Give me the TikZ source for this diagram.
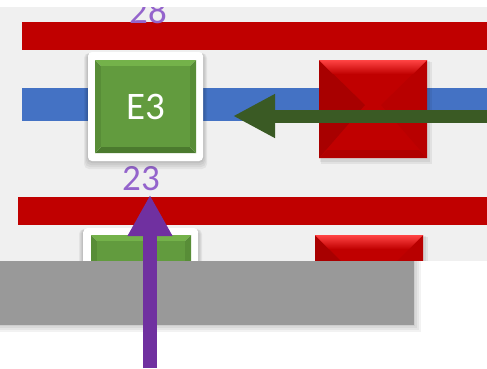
\documentclass[tikz,border=0pt]{standalone}
\usepackage{fontspec}
\setmainfont{Carlito}
\usetikzlibrary{arrows.meta,calc}
\definecolor{bgc}{HTML}{F0F0F0}
\definecolor{redbar}{HTML}{C00000}
\definecolor{bluebar}{HTML}{4472C4}
\definecolor{garrow}{HTML}{3A5A24}
\definecolor{parrow}{HTML}{7030A0}
\definecolor{plabel}{HTML}{9464CC}
\definecolor{graybox}{HTML}{999999}
\definecolor{gface}{HTML}{629B3E}
\definecolor{gtop}{HTML}{74B24A}
\definecolor{gbot}{HTML}{4B7A2E}
\definecolor{gside}{HTML}{588D37}
\definecolor{rface}{HTML}{C00000}
\definecolor{rtop}{HTML}{FF4444}
\definecolor{rleft}{HTML}{A80000}
\definecolor{rright}{HTML}{B80000}
\definecolor{rbot}{HTML}{B00000}
% beveled green box inside white frame: x1 y1 x2 y2 (inner face)
\newcommand{\greenbevel}[4]{%
  \fill[gtop] (#1,#2) -- (#3,#2) -- (#3-6,#2+6) -- (#1+6,#2+6) -- cycle;
  \fill[gbot] (#1,#4) -- (#3,#4) -- (#3-6,#4-6) -- (#1+6,#4-6) -- cycle;
  \fill[gside] (#1,#2) -- (#1+6,#2+6) -- (#1+6,#4-6) -- (#1,#4) -- cycle;
  \fill[gside] (#3,#2) -- (#3-6,#2+6) -- (#3-6,#4-6) -- (#3,#4) -- cycle;
  \fill[gface] (#1+6,#2+6) rectangle (#3-6,#4-6);
}
\newcommand{\redbevel}[4]{%
  \fill[black,opacity=0.06] (#1+2,#2+2) rectangle (#3+5,#4+6);
  \fill[black,opacity=0.06] (#1+1,#2+1) rectangle (#3+3,#4+4);
  \fill[rface] (#1,#2) rectangle (#3,#4);
  \fill[rleft] (#1,#2) -- ($(#1,#2)!0.5!(#3,#4)+(-8,-4)$) -- (#1,#4) -- cycle;
  \fill[rright] (#3,#2) -- ($(#1,#2)!0.5!(#3,#4)+(8,-4)$) -- (#3,#4) -- cycle;
  \shade[top color=rtop,bottom color=rface] (#1,#2) -- (#3,#2) -- (#3-14,#2+14) -- (#1+14,#2+14) -- cycle;
  \fill[rbot] (#1,#4) -- (#3,#4) -- (#3-8,#4-8) -- (#1+8,#4-8) -- cycle;
}
\begin{document}
\begin{tikzpicture}[x=1pt,y=-1pt,
  frame/.style={fill=white,draw=none,rounded corners=4pt,minimum width=115pt,minimum height=109pt,inner sep=0pt},
  numlabel/.style={text=plabel,font=\fontsize{37}{40}\selectfont,inner sep=0pt,anchor=base},
  boxtext/.style={text=white,font=\fontsize{39}{40}\selectfont,inner sep=0pt}]
\useasboundingbox (0,0) rectangle (487,368);
\fill[white] (0,0) rectangle (487,368);
\fill[bgc] (0,7) rectangle (487,261);
% bars
\fill[redbar] (22,22) rectangle (487,50);
\fill[bluebar] (22,88) rectangle (487,121);
\fill[redbar] (18,197) rectangle (487,225);
% labels
\node[numlabel] (l28) at (148,23) {28};
\node[numlabel] (l23) at (141,190) {23};
% first row
\foreach \o/\a in {0.05/8,0.05/6,0.05/4,0.06/2}{\fill[black,opacity=\o,rounded corners=5pt] (88-\a/2,53) rectangle (203+\a/2,161+\a);}
\node[frame] (f1) at (145.5,106.5) {};
\greenbevel{95}{60}{196}{153}
\node[boxtext] (e3) at (145.5,107) {E3};
\redbevel{319}{60}{427}{158}
\node[inner sep=0pt,minimum width=108pt,minimum height=98pt] (r1) at (373,109) {};
% second row
\foreach \o/\a in {0.05/8,0.05/6,0.05/4,0.06/2}{\fill[black,opacity=\o,rounded corners=5pt] (83-\a/2,229) rectangle (198+\a/2,330);}
\node[frame,anchor=north west] (f2) at (83,228) {};
\greenbevel{91}{235}{191}{340}
\redbevel{315}{235}{423}{335}
\node[inner sep=0pt,minimum width=108pt,minimum height=100pt,anchor=north west] (r2) at (315,235) {};
% top white strip
\fill[white] (0,0) rectangle (487,7);
% gray overlay with soft shadow
\fill[white] (0,261) rectangle (487,368);
\foreach \a in {8,6,4,2}{\fill[black,opacity=0.05] (0,261) rectangle (413+\a,324+\a);}
\node[fill=graybox,draw=none,inner sep=0pt,minimum width=414pt,minimum height=64pt,anchor=north west] (gray) at (0,261) {};
% arrows
\coordinate (gstart) at (487,116);
\coordinate (gtip) at (233,116);
\draw[garrow,line width=13pt,-{Triangle[length=42pt,width=41pt]}] (gstart) -- (gtip);
\coordinate (pstart) at (150,368);
\coordinate (ptip) at (150,195);
\draw[parrow,line width=14pt,-{Triangle[length=41pt,width=42pt]}] (pstart) -- (ptip);
\end{tikzpicture}
\end{document}
